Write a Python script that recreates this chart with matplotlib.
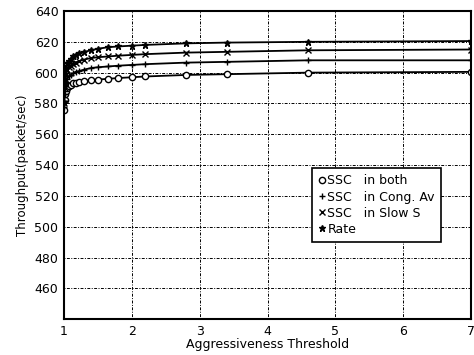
import numpy as np
import matplotlib.pyplot as plt

# aggressiveness threshold values (shared by all series)
x_thresh = [1.0, 1.01, 1.02, 1.03, 1.05, 1.07, 1.1, 1.13, 1.17, 1.22, 1.3,
            1.4, 1.5, 1.65, 1.8, 2.0, 2.2, 2.8, 3.4, 4.6, 7.0]

ssc_both = [576, 582, 586, 588, 590, 591, 592, 593, 593.5, 594, 594.5,
            595, 595.5, 596, 596.5, 597, 597.5, 598.5, 599, 600, 600.5]
ssc_cong = [578, 586, 591, 594, 596, 597.5, 598.5, 599.5, 600.5, 601, 602,
            603, 603.5, 604, 604.5, 605, 605.5, 606.5, 607, 608, 608]
ssc_slow = [580, 590, 596, 599, 602, 603.5, 604.5, 605.5, 606.5, 607.5, 608.5,
            609.5, 610, 610.5, 611, 611.5, 612, 613, 613.5, 614.5, 615]
rate = [581, 593, 599, 603, 606, 607.5, 609, 610.5, 611.5, 612.5, 613.5,
        614.5, 615.5, 616.5, 617, 617.5, 618, 619, 619.5, 620, 620.5]

labels = ['SSC   in both', 'SSC   in Cong. Av', 'SSC   in Slow S', 'Rate']
markers = ['o', '+', 'x', '*']

x_ticks = [1, 2, 3, 4, 5, 6, 7]
y_ticks = [460, 480, 500, 520, 540, 560, 580, 600, 620, 640]

fig = plt.figure(figsize=(4.74, 3.55), dpi=100)
ax = fig.add_axes([0.135, 0.101, 0.859, 0.868])

for ys, mk, lab in zip([ssc_both, ssc_cong, ssc_slow, rate], markers, labels):
    ax.plot(x_thresh, ys, color='black', linewidth=1.3)
    ax.plot(x_thresh, ys, linestyle='none', marker=mk, color='black',
            markersize=4.5, markerfacecolor='white' if mk == 'o' else 'black',
            label=lab)

ax.set_xlim(1, 7)
ax.set_ylim(440, 640)
ax.set_xticks(x_ticks)
ax.set_yticks(y_ticks)
ax.grid(True, color='black', linestyle=(0, (1, 1.5, 3, 1.5)), linewidth=0.7)
ax.tick_params(direction='in', length=0, labelsize=9, pad=4)
for s in ax.spines.values():
    s.set_linewidth(1.5)

ax.set_xlabel('Aggressiveness Threshold', fontsize=9, labelpad=0)
ax.set_ylabel('Throughput(packet/sec)', fontsize=8.5, labelpad=4)

leg = ax.legend(loc='upper left', bbox_to_anchor=(0.61, 0.49), fontsize=9,
                frameon=True, fancybox=False, handlelength=0.5,
                handletextpad=0.2, borderpad=0.5, labelspacing=0.25,
                borderaxespad=0)
leg.get_frame().set_edgecolor('black')
leg.get_frame().set_linewidth(1.2)
leg.get_frame().set_alpha(1)

fig.savefig('out.png', dpi=100)
